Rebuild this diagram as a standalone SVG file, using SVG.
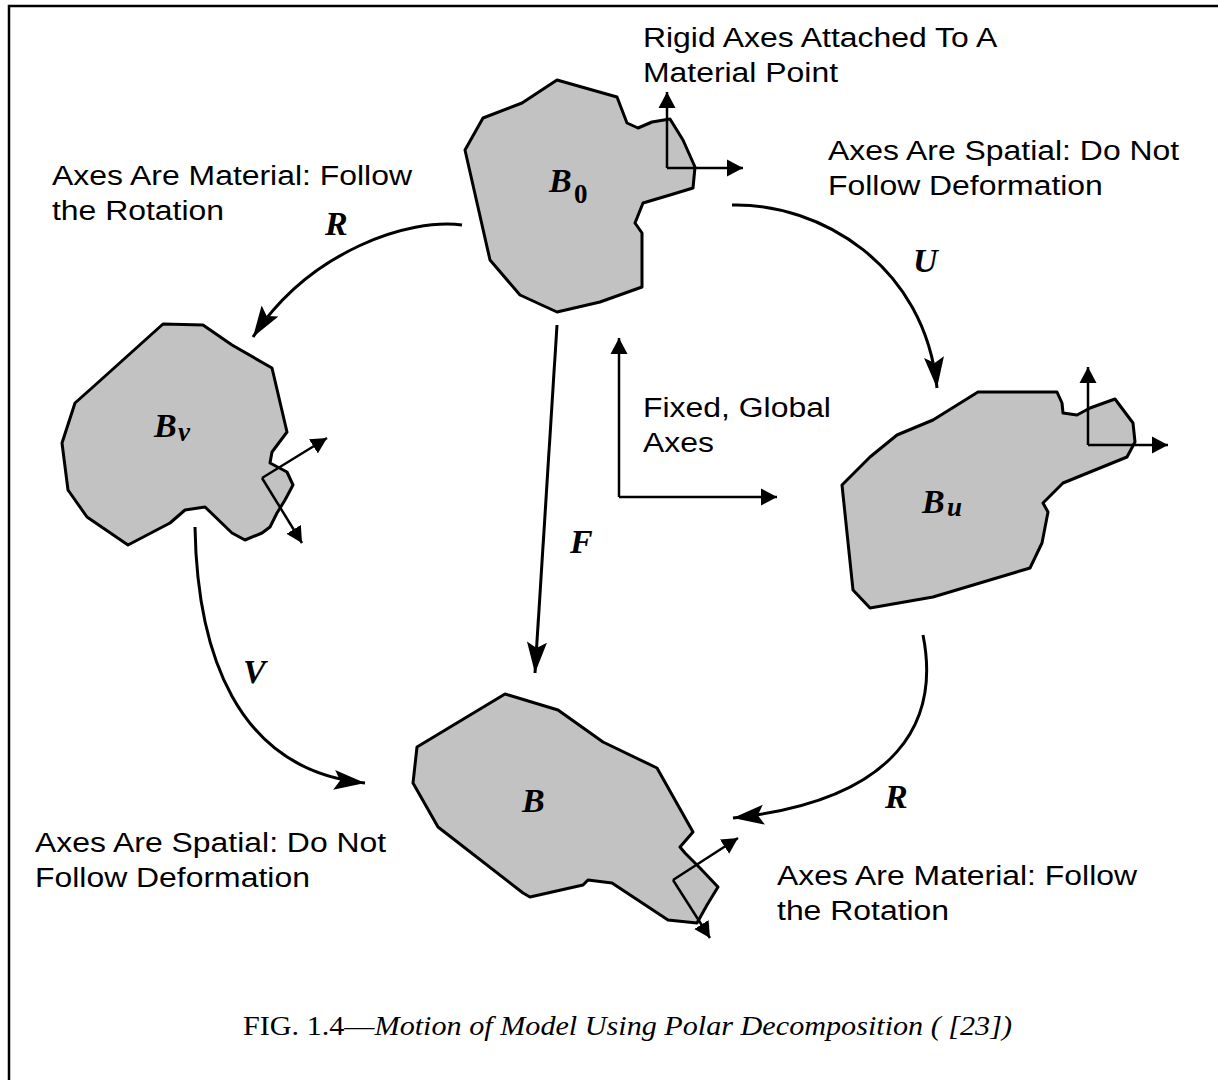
<svg xmlns="http://www.w3.org/2000/svg" width="1218" height="1080" viewBox="0 0 1218 1080">
<style>
.body{fill:#c2c2c2;stroke:#000;stroke-width:3;stroke-linejoin:round}
.ax{fill:none;stroke:#000;stroke-width:2.5}
.con{fill:none;stroke:#000;stroke-width:3}
.lbl{font-family:"Liberation Sans",Arial,sans-serif;font-size:28px;fill:#000}
.math{font-family:"Liberation Serif","Times New Roman",serif;font-weight:bold;font-style:italic;font-size:34px;fill:#000}
.sub{font-family:"Liberation Serif","Times New Roman",serif;font-weight:bold;font-size:27px;fill:#000}
.cap{font-family:"Liberation Serif","Times New Roman",serif;font-size:27px;fill:#000}
</style>
<defs>
<marker id="big" markerUnits="userSpaceOnUse" markerWidth="34" markerHeight="24" viewBox="0 -12 34 24" refX="31" refY="0" orient="auto">
<path d="M0,-10 L31,0 L0,10 L6,0 Z" fill="#000"/>
</marker>
<marker id="small" markerUnits="userSpaceOnUse" markerWidth="20" markerHeight="20" viewBox="0 -10 20 20" refX="16" refY="0" orient="auto">
<path d="M0,-8.5 L16,0 L0,8.5 Z" fill="#000"/>
</marker>
</defs>
<rect width="1218" height="1080" fill="#fff"/>
<path d="M9,1080 L9,6 L1218,6" fill="none" stroke="#000" stroke-width="2.5"/>

<g id="B0">
<polygon class="body" points="557,80 617,97 627,123 638,128 652,122 670,119 683,140 695,167 693,188 670,195 643,203 635,223 642,233 642,287 600,302 557,312 520,295 490,260 465,150 483,118 522,103"/>
<path class="ax" d="M667,168 L667,92" marker-end="url(#small)"/>
<path class="ax" d="M667,168 L743,168" marker-end="url(#small)"/>
<text class="math" x="549" y="192">B</text><text class="sub" x="574" y="203">0</text>
</g>

<g id="Bv">
<polygon class="body" points="163,324 203,325 232,345 272,368 287,432 272,452 270,463 287,472 293,485 285,500 277,513 270,527 262,533 245,540 232,533 205,507 185,510 170,523 128,545 87,517 68,490 62,443 75,403 93,387"/>
<path class="ax" d="M262,478 L327,438" marker-end="url(#small)"/>
<path class="ax" d="M262,478 L302,543" marker-end="url(#small)"/>
<text class="math" x="154" y="437">B</text><text class="math" x="178" y="441" style="font-size:27px">v</text>
</g>

<g id="Bu">
<polygon class="body" points="978,392 1057,392 1062,403 1063,413 1077,415 1090,408 1115,399 1133,423 1135,442 1127,457 1063,483 1043,503 1048,512 1042,543 1030,568 933,597 870,608 853,590 842,485 870,457 897,435 933,420"/>
<path class="ax" d="M1088,445 L1088,367" marker-end="url(#small)"/>
<path class="ax" d="M1088,445 L1168,445" marker-end="url(#small)"/>
<text class="math" x="922" y="513">B</text><text class="math" x="947" y="516" style="font-size:27px">u</text>
</g>

<g id="B">
<polygon class="body" points="505,694 558,710 603,742 657,768 693,832 680,847 685,853 700,868 718,887 707,905 697,923 668,920 612,883 588,880 583,885 530,897 523,893 438,827 413,783 417,747"/>
<path class="ax" d="M673,880 L738,838" marker-end="url(#small)"/>
<path class="ax" d="M673,880 L710,938" marker-end="url(#small)"/>
<text class="math" x="522" y="812">B</text>
</g>

<g id="global-axes">
<path class="ax" d="M619,497 L619,338" marker-end="url(#small)"/>
<path class="ax" d="M619,497 L777,497" marker-end="url(#small)"/>
</g>

<g id="connectors">
<path class="con" d="M462,225 C410,218 310,250 253,337" marker-end="url(#big)"/>
<path class="con" d="M732,205 C820,203 925,265 937,388" marker-end="url(#big)"/>
<path class="con" d="M557,325 L535,673" marker-end="url(#big)"/>
<path class="con" d="M195,527 C197,650 235,770 365,783" marker-end="url(#big)"/>
<path class="con" d="M923,635 C940,720 900,800 733,818" marker-end="url(#big)"/>
</g>

<g id="math-labels">
<text class="math" x="325" y="235">R</text>
<text class="math" x="913" y="272">U</text>
<text class="math" x="570" y="553">F</text>
<text class="math" x="243" y="683">V</text>
<text class="math" x="885" y="808">R</text>
</g>

<g id="notes" transform="scale(1.14,1)">
<text class="lbl" x="564" y="47">Rigid Axes Attached To A</text>
<text class="lbl" x="564" y="82">Material Point</text>
<text class="lbl" x="726.3" y="160">Axes Are Spatial: Do Not</text>
<text class="lbl" x="726.3" y="195">Follow Deformation</text>
<text class="lbl" x="45.6" y="185">Axes Are Material: Follow</text>
<text class="lbl" x="45.6" y="220">the Rotation</text>
<text class="lbl" x="564" y="417">Fixed, Global</text>
<text class="lbl" x="564" y="452">Axes</text>
<text class="lbl" x="30.7" y="852">Axes Are Spatial: Do Not</text>
<text class="lbl" x="30.7" y="887">Follow Deformation</text>
<text class="lbl" x="681.6" y="885">Axes Are Material: Follow</text>
<text class="lbl" x="681.6" y="920">the Rotation</text>
</g>

<text class="cap" x="243" y="1035" textLength="769" lengthAdjust="spacingAndGlyphs">FIG. 1.4—<tspan font-style="italic">Motion of Model Using Polar Decomposition ( [23])</tspan></text>
</svg>
